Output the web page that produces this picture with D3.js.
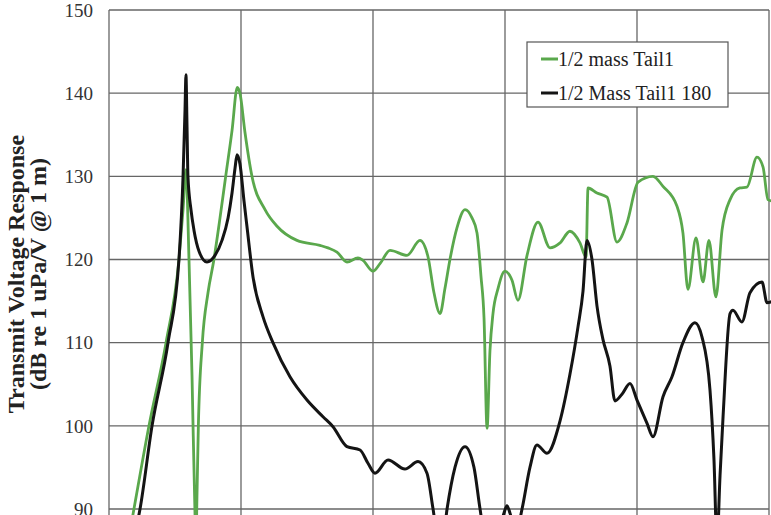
<!DOCTYPE html>
<html>
<head>
<meta charset="utf-8">
<script src="https://cdn.jsdelivr.net/npm/d3@7"></script>
<style>
    html, body { margin: 0; padding: 0; background: #fff; overflow: hidden; }
    svg { display: block; }
</style>
</head>
<body>
<div id="chart"></div>
<script>
// y ticks shown on the left
const yTicks = [90, 100, 110, 120, 130, 140, 150];
// x has no labels, gridlines every 100 units
const xTicks = [0, 100, 200, 300, 400, 500];

const seriesNames = ["1/2 mass Tail1", "1/2 Mass Tail1 180"];

// 1/2 mass Tail1 (green)
const greenX = [14.4, 18.9, 30.3, 43.2, 53.0, 56.1, 58.3, 60.6, 62.9, 65.2, 65.9, 66.7, 67.7, 70.7, 75.0, 79.5, 84.1, 88.4, 93.2, 97.2,
    99.2, 103.0, 108.3, 118.2, 127.3, 142.4, 159.8, 165.9, 172.7, 180.3, 188.6, 192.4, 200.0, 205.3, 212.9, 225.8, 235.6, 241.7, 246.2, 250.8,
    254.5, 258.3, 263.6, 269.7, 275.0, 278.8, 281.8, 284.1, 286.4, 288.6, 290.9, 294.7, 300.0, 305.3, 309.8, 316.7, 325.0, 334.1, 341.7, 349.2,
    356.8, 361.4, 362.9, 369.7, 377.3, 384.8, 392.4, 400.8, 412.1, 419.7, 430.3, 434.8, 438.6, 444.7, 450.0, 454.5, 459.8, 464.4, 470.5, 478.0,
    483.3, 490.9, 495.5, 499.2, 503.0];
const greenY = [86, 90, 100, 110, 120, 126, 130.8, 120, 106, 89, 86, 92, 100, 110, 116, 120, 125, 130, 135.5, 140.7,
    140, 135.3, 130, 126, 124, 122.3, 121.7, 121.4, 120.9, 119.7, 120.2, 119.9, 118.6, 119.5, 121.1, 120.5, 122.3, 120.3, 116, 113.5,
    116.5, 120, 123.8, 126, 125, 123.2, 118, 113, 99.7, 109, 113.5, 116.5, 118.6, 117.5, 115.1, 120.5, 124.5, 121.4, 122, 123.4,
    122, 120.3, 128.6, 128, 127.5, 122.1, 124.4, 129.3, 130, 128.8, 126.4, 123.2, 116.4, 122.6, 117.3, 122.3, 115.5, 123.5, 127.2, 128.6,
    128.7, 132.3, 131.1, 127.2, 127];

// 1/2 Mass Tail1 180 (black)
const blackX = [19.7, 23.5, 32.6, 44.7, 53.0, 56.1, 57.6, 58.3, 59.1, 59.8, 62.1, 64.4, 68.2, 74.2, 80.3, 85.6, 90.2, 93.2, 95.5, 97.0,
    99.2, 102.3, 104.5, 109.1, 116.7, 124.2, 137.1, 150.0, 162.1, 169.7, 180.3, 190.2, 196.2, 201.5, 211.4, 224.2, 234.1, 240.9, 245.5, 249.2,
    253.0, 256.1, 262.1, 269.7, 276.5, 281.1, 285.6, 294.7, 299.2, 301.5, 303.8, 308.3, 312.9, 318.9, 324.2, 331.8, 341.7, 349.2, 355.3, 359.1,
    362.1, 365.9, 369.7, 374.2, 379.5, 383.3, 388.6, 394.7, 400.0, 407.6, 412.1, 419.7, 426.5, 434.8, 443.9, 449.2, 455.3, 458.3, 460.6, 462.9,
    465.2, 470.5, 472.7, 479.5, 485.6, 494.7, 498.5, 503.0];
const blackY = [87, 90, 100, 110, 120, 130, 138, 142.2, 136, 130, 126, 123.5, 121, 119.7, 120.5, 122.3, 125, 128, 131, 132.6,
    131.5, 127, 124, 117.9, 113.1, 110, 105.9, 103.1, 101.1, 99.9, 97.5, 97.1, 95.5, 94.3, 95.9, 94.8, 95.7, 94.3, 90, 86.5,
    86.5, 90, 95, 97.5, 95, 90, 86, 87, 89.5, 90.4, 89.5, 87, 90, 95, 97.7, 96.7, 100.6, 106.2, 111.9, 116.2,
    122.3, 120, 114.4, 110.4, 107.2, 103, 103.8, 105.1, 103.1, 100.3, 98.7, 103.5, 105.9, 110, 112.4, 110.7, 104.3, 96, 86, 94,
    101.1, 113.5, 113.9, 112.5, 116, 117.3, 114.8, 115];

const width = 771, height = 515;
const plotLeft = 109, plotTop = 10, plotRight = 769;

const svg = d3.select("#chart")
    .append("svg")
    .attr("width", width)
    .attr("height", height)
;

const x = d3.scaleLinear().domain([0, 500]).range([plotLeft, plotRight]);
// 10 dB is about 83 px, plot runs on below the picture's bottom edge
const y = d3.scaleLinear().domain([80, 150]).range([plotTop + 70 * 8.317, plotTop]);

// gridlines
svg.append("g")
    .selectAll("line")
    .data(yTicks)
    .join("line")
    .attr("x1", plotLeft)
    .attr("x2", plotRight)
    .attr("y1", d => y(d))
    .attr("y2", d => y(d))
    .style("stroke", "#666")
    .style("stroke-width", 1.3)
;

svg.append("g")
    .selectAll("line")
    .data(xTicks)
    .join("line")
    .attr("x1", d => x(d))
    .attr("x2", d => x(d))
    .attr("y1", y(150))
    .attr("y2", height)
    .style("stroke", "#666")
    .style("stroke-width", 1.3)
;

// y tick labels
svg.append("g")
    .selectAll("text")
    .data(yTicks)
    .join("text")
    .attr("x", plotLeft - 16)
    .attr("y", d => y(d))
    .attr("dy", "0.35em")
    .attr("text-anchor", "end")
    .style("font-family", "'Liberation Serif', 'Times New Roman', serif")
    .style("font-size", "19px")
    .style("fill", "#333")
    .text(d => d)
;

// y axis title, two lines
const title = svg.append("text")
    .attr("transform", "translate(0,274) rotate(-90)")
    .attr("text-anchor", "middle")
    .style("font-family", "'Liberation Serif', 'Times New Roman', serif")
    .style("font-weight", "bold")
    .style("font-size", "24px")
    .style("fill", "#222")
;
title.append("tspan").attr("x", 0).attr("y", 24).text("Transmit Voltage Response");
title.append("tspan").attr("x", 0).attr("y", 46).text("(dB re 1 uPa/V @ 1 m)");

const line = d3.line()
    .x(d => x(d[0]))
    .y(d => y(d[1]))
    .curve(d3.curveMonotoneX)
;

const green = greenX.map((v, i) => [v, greenY[i]]);
const black = blackX.map((v, i) => [v, blackY[i]]);

const colors = ["#5aa84c", "#141414"];

svg.append("path")
    .datum(green)
    .attr("d", line)
    .style("fill", "none")
    .style("stroke", colors[0])
    .style("stroke-width", 2.8)
    .style("stroke-linejoin", "round")
;

svg.append("path")
    .datum(black)
    .attr("d", line)
    .style("fill", "none")
    .style("stroke", colors[1])
    .style("stroke-width", 3)
    .style("stroke-linejoin", "round")
;

// legend
const legend = svg.append("g").attr("transform", "translate(527,42)");
legend.append("rect")
    .attr("width", 201)
    .attr("height", 65)
    .style("fill", "#fff")
    .style("stroke", "#555")
    .style("stroke-width", 1.2)
;
const entries = legend.selectAll("g")
    .data(seriesNames)
    .join("g")
    .attr("transform", (d, i) => "translate(0," + (17 + i * 34) + ")")
;
entries.append("line")
    .attr("x1", 14)
    .attr("x2", 31)
    .style("stroke", (d, i) => colors[i])
    .style("stroke-width", 3)
;
entries.append("text")
    .attr("x", 31)
    .attr("dy", "0.35em")
    .style("font-family", "'Liberation Serif', 'Times New Roman', serif")
    .style("font-size", "20px")
    .style("fill", "#222")
    .text(d => d)
;
</script>
</body>
</html>
